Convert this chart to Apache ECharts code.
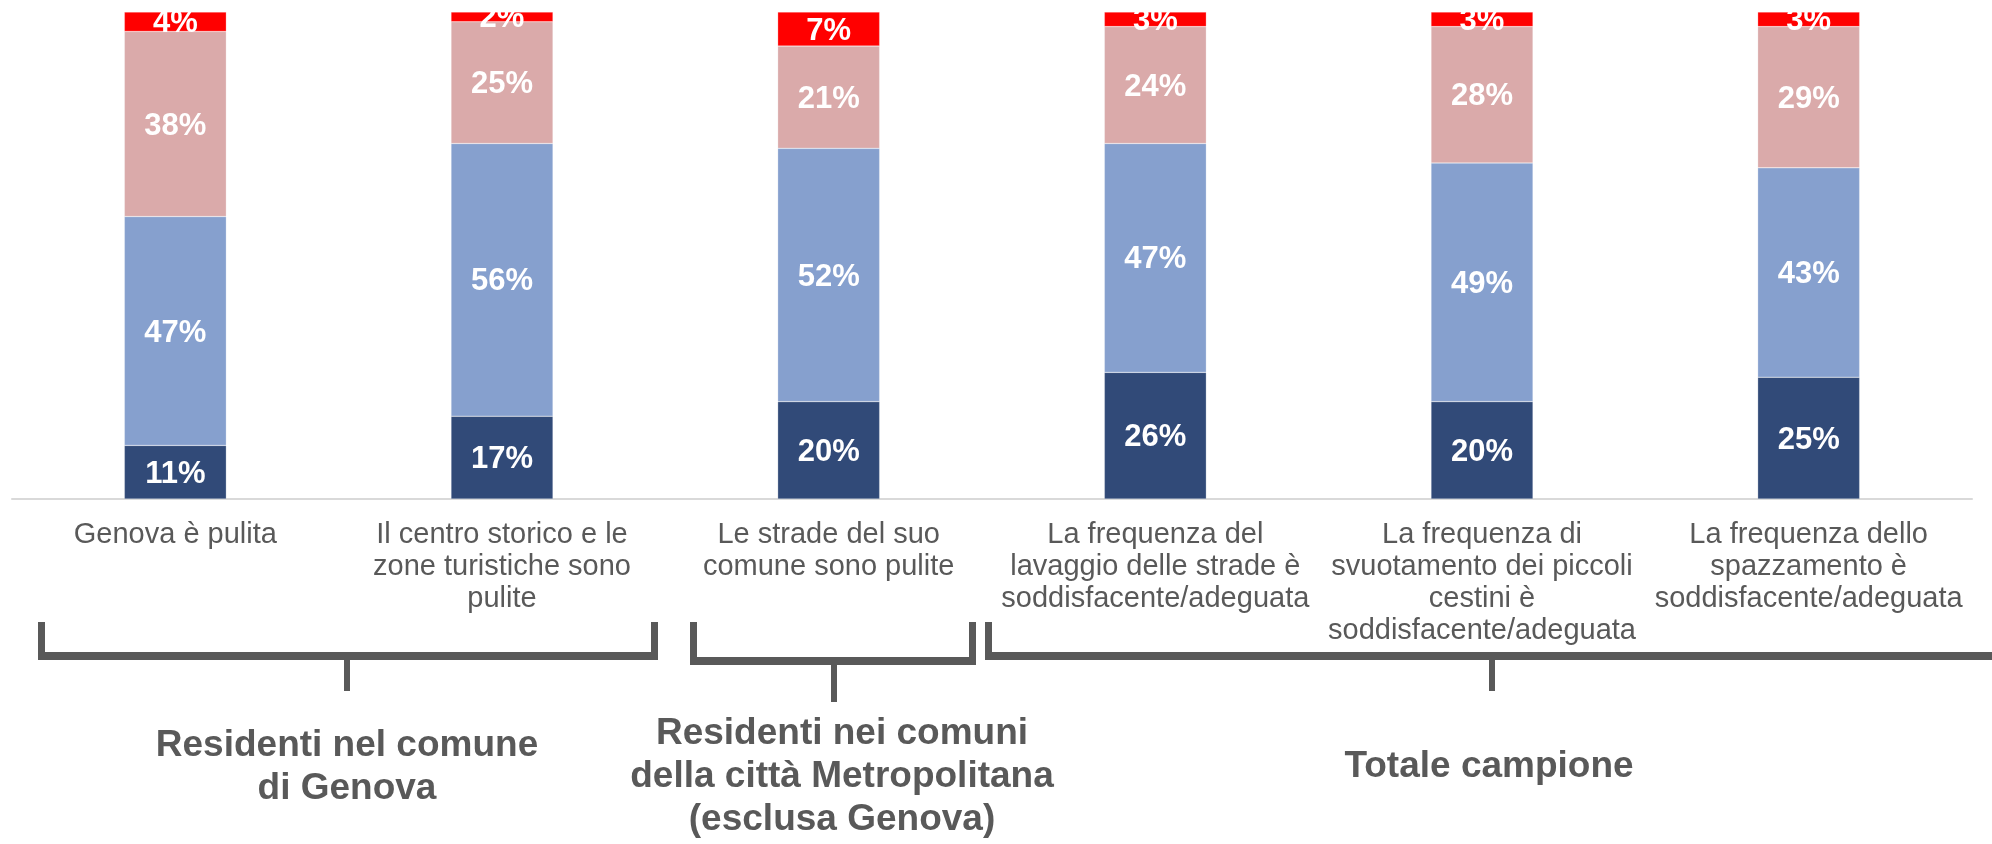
<!DOCTYPE html>
<html>
<head>
<meta charset="utf-8">
<title>Pulizia strade</title>
<script src="https://cdn.jsdelivr.net/npm/echarts@6/dist/echarts.min.js"></script>
<style>
  html, body { margin: 0; padding: 0; background: #ffffff; }
  #main { width: 1992px; height: 844px; }
</style>
</head>
<body>
<div id="main"></div>
<script>
// categorie (con gli a capo come nel grafico originale)
var categories = [
  'Genova è pulita',
  'Il centro storico e le\nzone turistiche sono\npulite',
  'Le strade del suo\ncomune sono pulite',
  'La frequenza del\nlavaggio delle strade è\nsoddisfacente/adeguata',
  'La frequenza di\nsvuotamento dei piccoli\ncestini è\nsoddisfacente/adeguata',
  'La frequenza dello\nspazzamento è\nsoddisfacente/adeguata'
];

// valori percentuali, dal basso verso l'alto
var moltoAccordo      = [11, 17, 20, 26, 20, 25];
var abbastanzaAccordo = [47, 56, 52, 47, 49, 43];
var pocoAccordo       = [38, 25, 21, 24, 28, 29];
var perNienteAccordo  = [4, 2, 7, 3, 3, 3];

// etichette dei gruppi sotto le parentesi
var groupLabels = [
  'Residenti nel comune\ndi Genova',
  'Residenti nei comuni\ndella città Metropolitana\n(esclusa Genova)',
  'Totale campione'
];

var FONT = '"Liberation Sans", Arial, sans-serif';
var GREY = '#595959';

var myChart = echarts.init(document.getElementById('main'));

function barSeries(name, data, color) {
  return {
    name: name,
    type: 'bar',
    stack: 'tot',
    barWidth: 102,
    data: data,
    itemStyle: { color: color, borderColor: 'rgba(255,255,255,0.5)', borderWidth: 0.5 },
    label: {
      show: true,
      position: 'inside',
      offset: [0, 2],
      formatter: '{c}%',
      color: '#ffffff',
      fontFamily: FONT,
      fontWeight: 'bold',
      fontSize: 31
    }
  };
}

// parentesi sotto le etichette (rettangoli)
function bracket(x1, x2, yBar, tickX, tickBottom) {
  var c = GREY;
  return [
    { type: 'rect', shape: { x: x1, y: 622, width: 7, height: yBar + 8 - 622 }, style: { fill: c } },
    { type: 'rect', shape: { x: x2 - 7, y: 622, width: 7, height: yBar + 8 - 622 }, style: { fill: c } },
    { type: 'rect', shape: { x: x1, y: yBar, width: x2 - x1, height: 8 }, style: { fill: c } },
    { type: 'rect', shape: { x: tickX - 3, y: yBar, width: 6, height: tickBottom - yBar }, style: { fill: c } }
  ];
}

var graphics = []
  .concat(bracket(38, 658, 652, 347, 691))
  .concat(bracket(690, 976, 657, 834, 702))
  .concat(bracket(985, 1999, 652, 1492, 691));

var groupPos = [[347, 767], [842, 777], [1489, 767]];
groupLabels.forEach(function (t, i) {
  graphics.push({
    type: 'text',
    x: groupPos[i][0],
    y: groupPos[i][1],
    style: {
      text: t,
      fill: GREY,
      font: 'bold 37px ' + FONT,
      lineHeight: 43,
      align: 'center',
      verticalAlign: 'middle'
    }
  });
});

// il grafico originale è tagliato in alto
graphics.push({
  type: 'rect', z: 100,
  shape: { x: 0, y: 0, width: 1992, height: 12 },
  style: { fill: '#ffffff' }
});

var option = {
  backgroundColor: '#ffffff',
  animation: false,
  grid: { left: 12, right: 20, top: 12, bottom: 345, containLabel: false },
  xAxis: {
    type: 'category',
    data: categories,
    axisLine: { show: true, lineStyle: { color: '#d9d9d9', width: 2 } },
    axisTick: { show: false },
    axisLabel: {
      interval: 0,
      color: GREY,
      fontFamily: FONT,
      fontSize: 29,
      lineHeight: 32,
      margin: 20
    }
  },
  yAxis: {
    type: 'value',
    min: 0,
    max: 100,
    show: false,
    splitLine: { show: false }
  },
  series: [
    barSeries('Molto d\'accordo', moltoAccordo, '#314A78'),
    barSeries('Abbastanza d\'accordo', abbastanzaAccordo, '#86A0CE'),
    barSeries('Poco d\'accordo', pocoAccordo, '#DAAAAA'),
    barSeries('Per niente d\'accordo', perNienteAccordo, '#FF0000')
  ],
  graphic: graphics
};

option && myChart.setOption(option);
</script>
</body>
</html>
